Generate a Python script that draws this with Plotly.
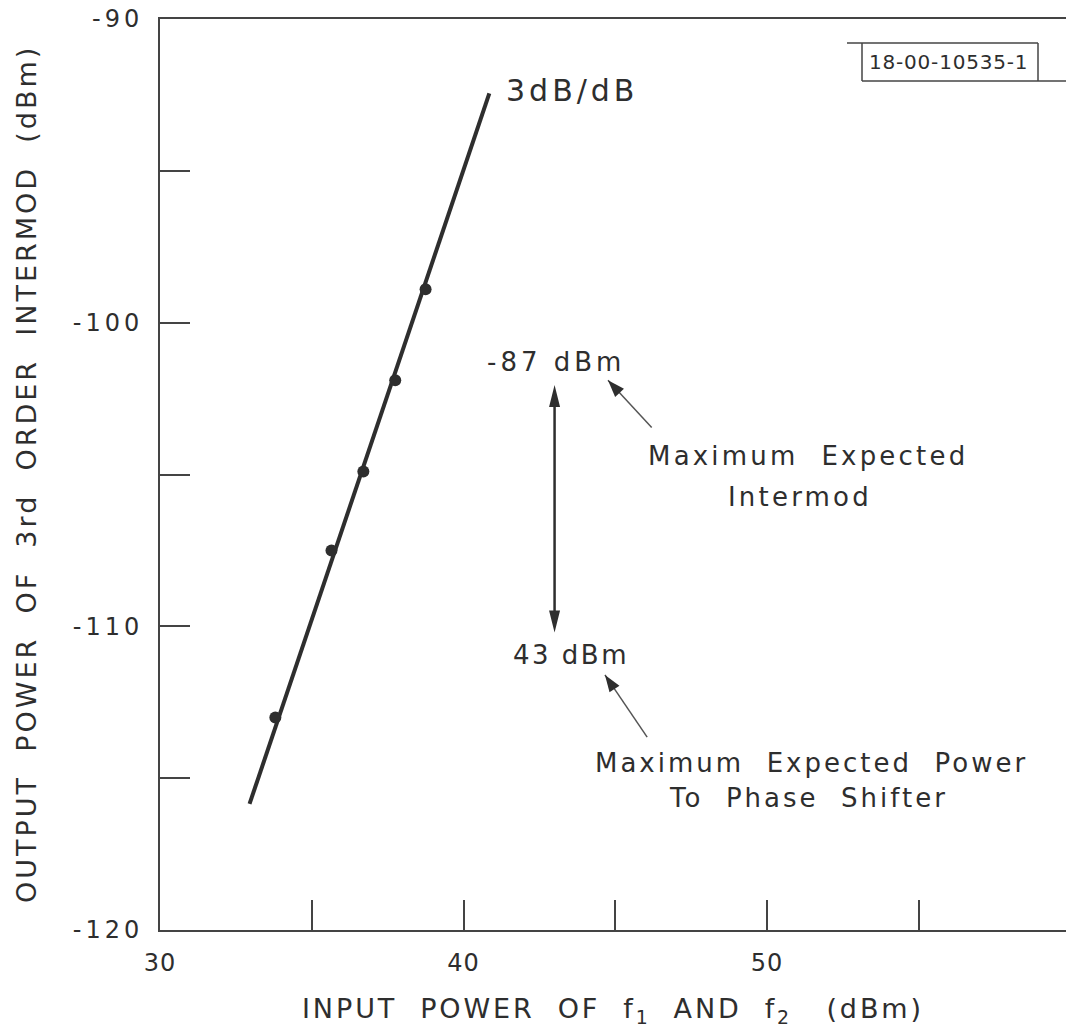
import plotly.graph_objects as go

# Measured third-order intermod vs. two-tone input power
input_dbm = [33.8, 35.65, 36.7, 37.75, 38.75]
im3_dbm = [-113.0, -107.5, -104.9, -101.9, -98.9]

# 3 dB/dB fitted line end points
fit_x = [32.95, 40.85]
fit_y = [-115.85, -92.45]

x_tick_vals = [30, 40, 50]
x_tick_text = ["30", "40", "50"]
y_tick_vals = [-120, -110, -100, -90]
y_tick_text = ["-120", "-110", "-100", "-90"]
minor_step = 5

# Operating-limit arrow (input power, output span)
limit_x = 43.0
limit_y = [-102.05, -110.2]

# Leader arrows: (tail x, tail y, tip x, tip y)
leader_intermod = (46.2, -103.45, 44.76, -101.9)
leader_power = (46.05, -113.65, 44.66, -111.6)

INK = "#2e2e2e"
FONT = "DejaVu Sans"

W, H = 1066, 1033
ML, MR, MT, MB = 160, 0, 19, 103
X_RANGE = [30, 59.85]
Y_RANGE = [-120, -90]
px_x = (W - ML - MR) / (X_RANGE[1] - X_RANGE[0])
px_y = (H - MT - MB) / (Y_RANGE[1] - Y_RANGE[0])


def spaced(text, px):
    return f'<span style="letter-spacing:{px}px">{text}</span>'


def head_path(tail, tip, length, half_w):
    """Filled triangular arrow head, sized in pixels, expressed in data units."""
    dx = (tip[0] - tail[0]) * px_x
    dy = (tip[1] - tail[1]) * px_y
    n = (dx * dx + dy * dy) ** 0.5
    ux, uy = dx / n, dy / n
    bx, by = -ux * length, -uy * length
    lx, ly = -uy * half_w, ux * half_w
    p1 = (tip[0], tip[1])
    p2 = (tip[0] + (bx + lx) / px_x, tip[1] + (by + ly) / px_y)
    p3 = (tip[0] + (bx - lx) / px_x, tip[1] + (by - ly) / px_y)
    return f"M{p1[0]},{p1[1]} L{p2[0]},{p2[1]} L{p3[0]},{p3[1]} Z"


fig = go.Figure()

fig.add_trace(go.Scatter(
    x=fit_x, y=fit_y, mode="lines",
    line=dict(color=INK, width=4), hoverinfo="skip", showlegend=False,
))
fig.add_trace(go.Scatter(
    x=input_dbm, y=im3_dbm, mode="markers",
    marker=dict(color=INK, size=12), showlegend=False,
))

shapes = []
# double-headed limit arrow
top = (limit_x, limit_y[0])
bot = (limit_x, limit_y[1])
shapes.append(dict(type="line", xref="x", yref="y", x0=limit_x, x1=limit_x,
                   y0=limit_y[0] - 18 / px_y, y1=limit_y[1] + 18 / px_y,
                   line=dict(color=INK, width=2.5)))
shapes.append(dict(type="path", xref="x", yref="y", path=head_path(bot, top, 22, 5.5),
                   fillcolor=INK, line=dict(width=0)))
shapes.append(dict(type="path", xref="x", yref="y", path=head_path(top, bot, 22, 5.5),
                   fillcolor=INK, line=dict(width=0)))

for tx, ty, hx, hy in (leader_intermod, leader_power):
    shapes.append(dict(type="line", xref="x", yref="y", x0=tx, y0=ty, x1=hx, y1=hy,
                       line=dict(color="#555555", width=1.5)))
    shapes.append(dict(type="path", xref="x", yref="y",
                       path=head_path((tx, ty), (hx, hy), 17, 6),
                       fillcolor=INK, line=dict(width=0)))


# drawing-number stamp in the upper right
def px2paper(px, py):
    return (px - ML) / (W - ML - MR), 1 - (py - MT) / (H - MT - MB)


sx0, sy0 = px2paper(847, 43)
sx1, _ = px2paper(862, 43)
sx2, _ = px2paper(1038, 43)
sx3, sy1 = px2paper(1066, 81)
stamp_line = dict(color="#444444", width=1.5)
shapes += [
    dict(type="line", xref="paper", yref="paper", x0=sx0, x1=sx2, y0=sy0, y1=sy0, line=stamp_line),
    dict(type="line", xref="paper", yref="paper", x0=sx1, x1=sx1, y0=sy0, y1=sy1, line=stamp_line),
    dict(type="line", xref="paper", yref="paper", x0=sx2, x1=sx2, y0=sy0, y1=sy1, line=stamp_line),
    dict(type="line", xref="paper", yref="paper", x0=sx1, x1=sx3, y0=sy1, y1=sy1, line=stamp_line),
]

stamp_cx, stamp_cy = px2paper(948, 62)
xt_cx, xt_cy = px2paper(613, 1011)
yt_cx, yt_cy = px2paper(27, 474)

annotations = [
    dict(x=41.35, y=-92.35, xref="x", yref="y", xanchor="left", yanchor="middle",
         text=spaced("3dB/dB", 4), showarrow=False, font=dict(size=30, color=INK)),
    dict(x=43.05, y=-101.3, xref="x", yref="y", xanchor="center", yanchor="middle",
         text=spaced("-87 dBm", 4), showarrow=False, font=dict(size=26, color=INK)),
    dict(x=43.55, y=-110.95, xref="x", yref="y", xanchor="center", yanchor="middle",
         text=spaced("43 dBm", 2.5), showarrow=False, font=dict(size=26, color=INK)),
    dict(x=51.35, y=-104.4, xref="x", yref="y", xanchor="center", yanchor="middle",
         text=spaced("Maximum  Expected", 3.2), showarrow=False, font=dict(size=26, color=INK)),
    dict(x=51.1, y=-105.75, xref="x", yref="y", xanchor="center", yanchor="middle",
         text=spaced("Intermod", 3.2), showarrow=False, font=dict(size=26, color=INK)),
    dict(x=51.45, y=-114.5, xref="x", yref="y", xanchor="center", yanchor="middle",
         text=spaced("Maximum  Expected  Power", 3), showarrow=False, font=dict(size=26, color=INK)),
    dict(x=51.35, y=-115.65, xref="x", yref="y", xanchor="center", yanchor="middle",
         text=spaced("To  Phase  Shifter", 3), showarrow=False, font=dict(size=26, color=INK)),
    dict(x=stamp_cx, y=stamp_cy, xref="paper", yref="paper", xanchor="center", yanchor="middle",
         text=spaced("18-00-10535-1", 0.8), showarrow=False, font=dict(size=20, color=INK)),
    # axis titles
    dict(x=xt_cx, y=xt_cy, xref="paper", yref="paper", xanchor="center", yanchor="middle",
         text=spaced("INPUT  POWER  OF  f<sub>1</sub>  AND  f<sub>2</sub>   (dBm)", 2.9),
         showarrow=False, font=dict(size=27, color=INK)),
    dict(x=yt_cx, y=yt_cy, xref="paper", yref="paper",
         xanchor="center", yanchor="middle", textangle=-90,
         text=spaced("OUTPUT  POWER  OF  3rd  ORDER  INTERMOD  (dBm)", 3),
         showarrow=False, font=dict(size=27, color=INK)),
]

fig.update_layout(
    width=W, height=H,
    margin=dict(l=ML, r=MR, t=MT, b=MB, pad=0, autoexpand=False),
    paper_bgcolor="white", plot_bgcolor="white",
    font=dict(family=FONT, color=INK),
    showlegend=False,
    shapes=shapes,
    annotations=annotations,
)
fig.update_xaxes(
    range=X_RANGE, showgrid=False, zeroline=False, automargin=False,
    showline=True, linecolor="#444444", linewidth=2, mirror=True,
    ticks="inside", ticklen=30, tickwidth=2, tickcolor="#444444",
    tickvals=x_tick_vals, ticktext=[spaced(t, 1) for t in x_tick_text],
    minor=dict(ticks="inside", ticklen=30, tickwidth=2, tickcolor="#444444",
               tick0=X_RANGE[0], dtick=minor_step, showgrid=False),
    tickfont=dict(size=24, color=INK), ticklabelstandoff=10,
)
fig.update_yaxes(
    range=Y_RANGE, showgrid=False, zeroline=False, automargin=False,
    showline=True, linecolor="#444444", linewidth=2, mirror=False,
    ticks="inside", ticklen=30, tickwidth=2, tickcolor="#444444",
    tickvals=y_tick_vals, ticktext=[spaced(t, 4) for t in y_tick_text],
    minor=dict(ticks="inside", ticklen=30, tickwidth=2, tickcolor="#444444",
               tick0=Y_RANGE[0], dtick=minor_step, showgrid=False),
    tickfont=dict(size=24, color=INK), ticklabelstandoff=10,
)

fig.write_html("out.html", config={"displayModeBar": False})
